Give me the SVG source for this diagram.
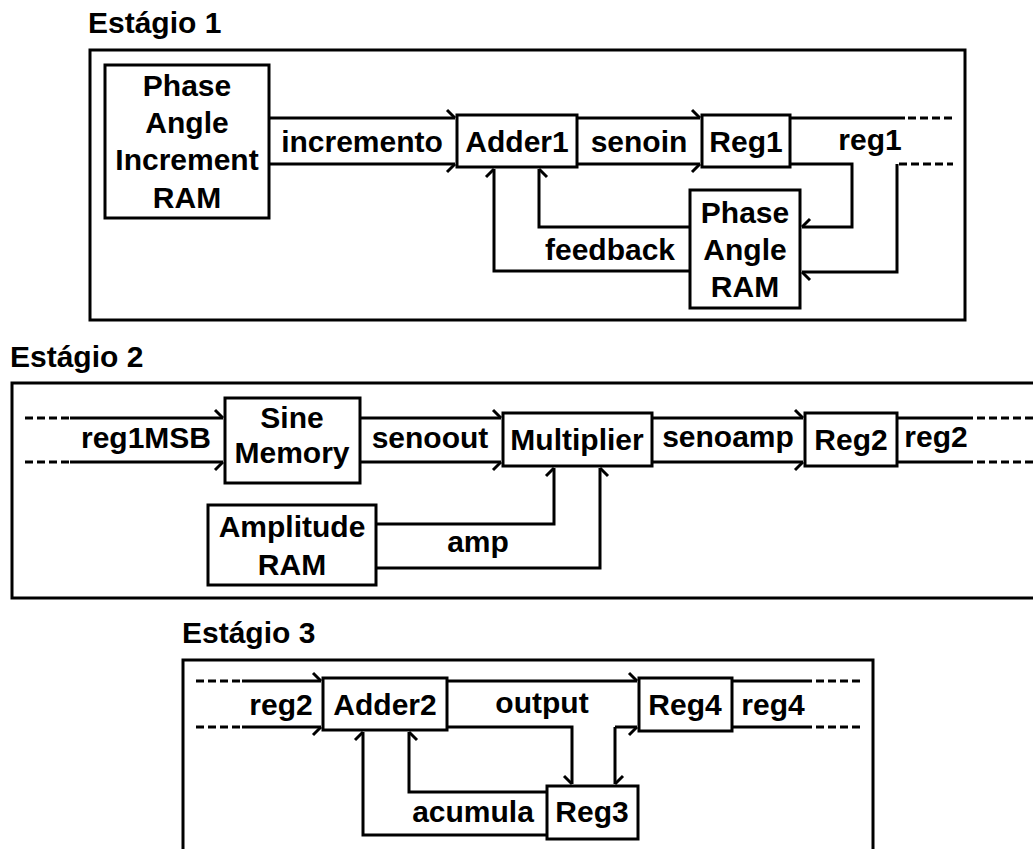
<svg xmlns="http://www.w3.org/2000/svg" width="1033" height="849" viewBox="0 0 1033 849">
<style>
.bg{fill:#fff}
.frame{fill:none;stroke:#000;stroke-width:3}
.node{fill:#fff;stroke:#000;stroke-width:3}
.t{font-family:"Liberation Sans",Arial,sans-serif;font-weight:bold;font-size:30px;fill:#000;text-anchor:middle}
.title{font-family:"Liberation Sans",Arial,sans-serif;font-weight:bold;font-size:30px;fill:#000}
.w{fill:none;stroke:#000;stroke-width:3}
.d{fill:none;stroke:#000;stroke-width:3;stroke-dasharray:8 4}
.bl{marker-end:url(#barbL)}
.br{marker-end:url(#barbR)}
</style>
<defs>
<marker id="barbL" markerUnits="userSpaceOnUse" viewBox="-10 -10 12 20" refX="0" refY="0" markerWidth="12" markerHeight="20" orient="auto" overflow="visible">
<path d="M0,0 L-8,-8" fill="none" stroke="#000" stroke-width="3"/>
</marker>
<marker id="barbR" markerUnits="userSpaceOnUse" viewBox="-10 -10 12 20" refX="0" refY="0" markerWidth="12" markerHeight="20" orient="auto" overflow="visible">
<path d="M0,0 L-8,8" fill="none" stroke="#000" stroke-width="3"/>
</marker>
</defs>
<rect class="bg" x="0" y="0" width="1033" height="849"/>

<g id="stage1">
<text class="title" x="88" y="33">Estágio 1</text>
<rect class="frame" x="90" y="50" width="875" height="270"/>
</g>
<g id="stage2">
<text class="title" x="10" y="367">Estágio 2</text>
<rect class="frame" x="12" y="383" width="1040" height="215"/>
</g>
<g id="stage3">
<text class="title" x="182" y="643">Estágio 3</text>
<rect class="frame" x="183" y="660" width="690" height="220"/>
</g>

<g id="connectors">
<!-- stage 1 -->
<path class="w bl" d="M269,118 H455"/>
<path class="w br" d="M269,164 H455"/>
<path class="w bl" d="M577,118 H700"/>
<path class="w br" d="M577,164 H700"/>
<path class="w" d="M790,118 H905"/>
<path class="d" d="M908,118 H953"/>
<path class="w br" d="M790,164 H852 V227 H802"/>
<path class="d" d="M899,164 H953"/>
<path class="w bl" d="M897,164 V272 H802"/>
<path class="w br" d="M690,227 H539 V169"/>
<path class="w bl" d="M690,271 H494 V169"/>
<!-- stage 2 -->
<path class="d" d="M25,418 H70"/>
<path class="d" d="M25,462 H70"/>
<path class="w bl" d="M70,418 H223"/>
<path class="w br" d="M70,462 H223"/>
<path class="w bl" d="M360,418 H501"/>
<path class="w br" d="M360,462 H501"/>
<path class="w bl" d="M652,418 H803"/>
<path class="w br" d="M652,462 H803"/>
<path class="w" d="M897,418 H973"/>
<path class="w" d="M897,462 H973"/>
<path class="d" d="M977,418 H1033"/>
<path class="d" d="M977,462 H1033"/>
<path class="w bl" d="M376,524 H554 V468"/>
<path class="w br" d="M376,568 H600 V468"/>
<!-- stage 3 -->
<path class="d" d="M196,681 H242"/>
<path class="d" d="M196,727 H242"/>
<path class="w bl" d="M242,681 H321"/>
<path class="w br" d="M242,727 H321"/>
<path class="w bl" d="M447,681 H637"/>
<path class="w br" d="M447,727 H572 V784"/>
<path class="w bl" d="M615,727 V784"/>
<path class="w br" d="M615,727 H637"/>
<path class="w" d="M732,681 H812"/>
<path class="w" d="M732,727 H812"/>
<path class="d" d="M816,681 H862"/>
<path class="d" d="M816,727 H862"/>
<path class="w br" d="M547,792 H409 V732"/>
<path class="w bl" d="M547,835 H363 V732"/>
</g>

<g id="pai_ram">
<rect class="node" x="105" y="65" width="164" height="153"/>
<text class="t" x="187" y="96">Phase</text>
<text class="t" x="187" y="133">Angle</text>
<text class="t" x="187" y="170">Increment</text>
<text class="t" x="187" y="208">RAM</text>
</g>
<g id="adder1">
<rect class="node" x="457" y="115" width="120" height="52"/>
<text class="t" x="517" y="152">Adder1</text>
</g>
<g id="reg1">
<rect class="node" x="702" y="115" width="88" height="52"/>
<text class="t" x="746" y="152">Reg1</text>
</g>
<g id="pa_ram">
<rect class="node" x="690" y="190" width="110" height="118"/>
<text class="t" x="745" y="223">Phase</text>
<text class="t" x="745" y="260">Angle</text>
<text class="t" x="745" y="297">RAM</text>
</g>
<g id="labels1">
<text class="t" x="362" y="152">incremento</text>
<text class="t" x="639" y="152">senoin</text>
<text class="t" x="870" y="150">reg1</text>
<text class="t" x="610" y="260">feedback</text>
</g>

<g id="sine_memory">
<rect class="node" x="225" y="398" width="135" height="85"/>
<text class="t" x="292" y="428">Sine</text>
<text class="t" x="292" y="463">Memory</text>
</g>
<g id="multiplier">
<rect class="node" x="503" y="413" width="149" height="53"/>
<text class="t" x="577" y="450">Multiplier</text>
</g>
<g id="reg2">
<rect class="node" x="805" y="413" width="92" height="53"/>
<text class="t" x="851" y="450">Reg2</text>
</g>
<g id="amplitude_ram">
<rect class="node" x="208" y="505" width="168" height="80"/>
<text class="t" x="292" y="537">Amplitude</text>
<text class="t" x="292" y="575">RAM</text>
</g>
<g id="labels2">
<text class="t" x="146" y="448">reg1MSB</text>
<text class="t" x="430" y="448">senoout</text>
<text class="t" x="728" y="447">senoamp</text>
<text class="t" x="936" y="447">reg2</text>
<text class="t" x="478" y="552">amp</text>
</g>

<g id="adder2">
<rect class="node" x="323" y="678" width="124" height="52"/>
<text class="t" x="385" y="715">Adder2</text>
</g>
<g id="reg4">
<rect class="node" x="639" y="678" width="93" height="53"/>
<text class="t" x="685" y="715">Reg4</text>
</g>
<g id="reg3">
<rect class="node" x="547" y="786" width="91" height="53"/>
<text class="t" x="592" y="822">Reg3</text>
</g>
<g id="labels3">
<text class="t" x="281" y="715">reg2</text>
<text class="t" x="542" y="713">output</text>
<text class="t" x="773" y="715">reg4</text>
<text class="t" x="473" y="822">acumula</text>
</g>
</svg>
